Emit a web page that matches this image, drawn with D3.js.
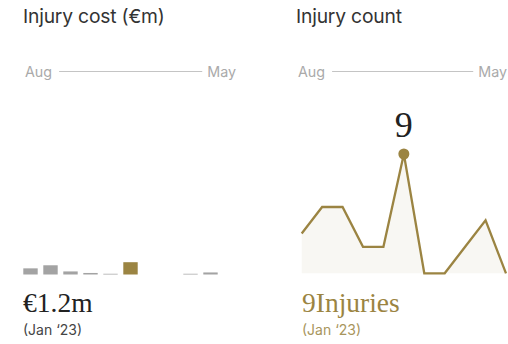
<!DOCTYPE html>
<html>
<head>
<meta charset="utf-8">
<script src="https://cdn.jsdelivr.net/npm/d3@7"></script>
<style>
html,body{margin:0;padding:0;background:#fff;}
svg{display:block;}
</style>
</head>
<body>
<svg id="chart" width="508" height="344"></svg>
<script>
// ---- data ----
const costMonths = ["Aug","Sep","Oct","Nov","Dec","Jan","Feb","Mar","Apr","May"];
const costValues = [0.6, 0.9, 0.3, 0.15, 0.07, 1.2, 0, 0, 0.07, 0.2];
const highlightMonth = "Jan";
const countValues = [3, 5, 5, 2, 2, 9, 0, 0, 2, 4, 0];
const axisLabels = ["Aug", "May"];
const titles = ["Injury cost (€m)", "Injury count"];
const costHeadline = "€1.2m";
const countHeadline = "9Injuries";
const peakLabel = "9";
const periodLabel = "(Jan ‘23)";

const gold = "#9b8442";
const sans = "Inter, 'Noto Sans', sans-serif";
const serif = "'Liberation Serif', 'DejaVu Serif', serif";

const svg = d3.select("#chart");

// ---- titles & mini axes ----
const panels = [{x: 23, axisEnd: 236}, {x: 296, axisEnd: 507}];
panels.forEach((p, i) => {
  svg.append("text").attr("x", p.x).attr("y", 22.5)
    .attr("font-family", sans).attr("font-size", 19.3).attr("fill", "#333")
    .attr("letter-spacing", -0.2)
    .text(titles[i]);
  const a = svg.append("text").attr("x", p.x + 2).attr("y", 77)
    .attr("font-family", sans).attr("font-size", 14.3).attr("fill", "#aaa")
    .text(axisLabels[0]);
  const b = svg.append("text").attr("x", p.axisEnd).attr("y", 77)
    .attr("text-anchor", "end")
    .attr("font-family", sans).attr("font-size", 14.3).attr("fill", "#aaa")
    .text(axisLabels[1]);
  const aw = a.node().getComputedTextLength();
  const bw = b.node().getComputedTextLength();
  svg.append("line")
    .attr("x1", p.x + 2 + aw + 7).attr("x2", p.axisEnd - bw - 5)
    .attr("y1", 71.5).attr("y2", 71.5)
    .attr("stroke", "#c4c4c4").attr("stroke-width", 1);
});

// ---- bar chart ----
const xb = d3.scaleBand().domain(costMonths).range([23.3, 217.7])
  .paddingInner(0.28).paddingOuter(0);
const yb = d3.scaleLinear().domain([0, 12]).range([274.5, 151.5]);

svg.append("g").selectAll("rect").data(costMonths)
  .join("rect")
  .attr("x", d => xb(d))
  .attr("width", xb.bandwidth())
  .attr("y", (d, i) => yb(costValues[i]))
  .attr("height", (d, i) => yb(0) - yb(costValues[i]))
  .attr("fill", d => d === highlightMonth ? gold : "#a3a3a3");

svg.append("text").attr("x", 23).attr("y", 311.7)
  .attr("font-family", serif).attr("font-size", 27.5).attr("fill", "#222")
  .text(costHeadline);
svg.append("text").attr("x", 23).attr("y", 335)
  .attr("font-family", sans).attr("font-size", 14).attr("fill", "#444")
  .text(periodLabel);

// ---- line chart ----
const xl = d3.scaleLinear().domain([0, countValues.length - 1]).range([301.7, 506]);
const yl = d3.scaleLinear().domain([0, 9]).range([273.3, 154]);

const area = d3.area().x((d, i) => xl(i)).y0(yl(0)).y1(d => yl(d));
const line = d3.line().x((d, i) => xl(i)).y(d => yl(d));

svg.append("path").datum(countValues).attr("d", area).attr("fill", "#f8f7f3");
svg.append("path").datum(countValues).attr("d", line)
  .attr("fill", "none").attr("stroke", gold).attr("stroke-width", 2.3)
  .attr("stroke-linejoin", "miter");

const peakIdx = countValues.indexOf(d3.max(countValues));
svg.append("circle").attr("cx", xl(peakIdx)).attr("cy", yl(countValues[peakIdx]))
  .attr("r", 5.5).attr("fill", gold);
svg.append("text").attr("x", xl(peakIdx)).attr("y", 137)
  .attr("text-anchor", "middle")
  .attr("font-family", serif).attr("font-size", 36).attr("fill", "#222")
  .text(peakLabel);

svg.append("text").attr("x", 302).attr("y", 311.7)
  .attr("font-family", serif).attr("font-size", 27.5).attr("fill", gold)
  .text(countHeadline);
svg.append("text").attr("x", 302).attr("y", 335)
  .attr("font-family", sans).attr("font-size", 14).attr("fill", "#a8955c")
  .text(periodLabel);
</script>
</body>
</html>
